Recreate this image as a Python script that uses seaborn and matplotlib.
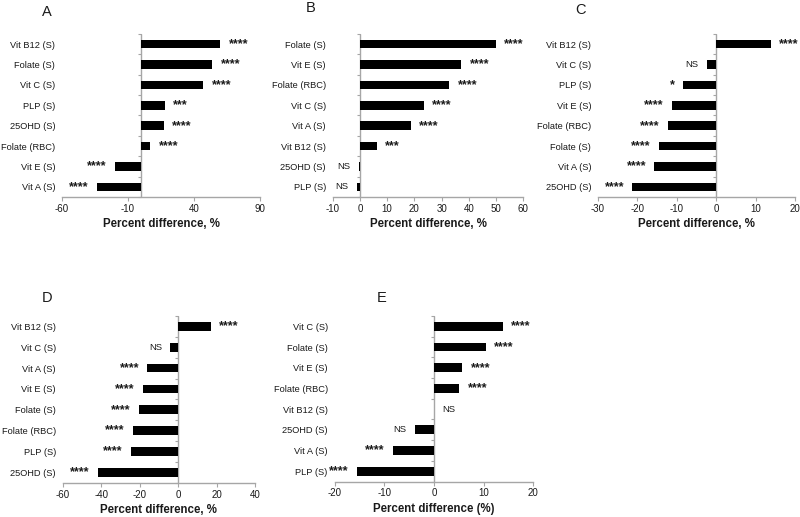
# plot.py
# Five horizontal bar panels (A-E) of percent differences with significance marks

import matplotlib
matplotlib.use("Agg")
import matplotlib.pyplot as plt
import seaborn as sns
import pandas as pd

# --- data ---
A_cats = ["Vit B12 (S)", "Folate (S)", "Vit C (S)", "PLP (S)", "25OHD (S)", "Folate (RBC)", "Vit E (S)", "Vit A (S)"]
A_vals = [60, 54, 47, 18, 17, 7, -20, -33.5]
A_sig = ["****", "****", "****", "***", "****", "****", "****", "****"]
A_ticks = [-60, -10, 40, 90]

B_cats = ["Folate (S)", "Vit E (S)", "Folate (RBC)", "Vit C (S)", "Vit A (S)", "Vit B12 (S)", "25OHD (S)", "PLP (S)"]
B_vals = [50, 37.2, 32.8, 23.5, 18.6, 6.1, -0.5, -1.0]
B_sig = ["****", "****", "****", "****", "****", "***", "NS", "NS"]
B_ticks = [-10, 0, 10, 20, 30, 40, 50, 60]

C_cats = ["Vit B12 (S)", "Vit C (S)", "PLP (S)", "Vit E (S)", "Folate (RBC)", "Folate (S)", "Vit A (S)", "25OHD (S)"]
C_vals = [13.9, -2.4, -8.5, -11.3, -12.2, -14.5, -15.7, -21.3]
C_sig = ["****", "NS", "*", "****", "****", "****", "****", "****"]
C_ticks = [-30, -20, -10, 0, 10, 20]

D_cats = ["Vit B12 (S)", "Vit C (S)", "Vit A (S)", "Vit E (S)", "Folate (S)", "Folate (RBC)", "PLP (S)", "25OHD (S)"]
D_vals = [17, -4, -16, -18.5, -20.3, -23.7, -24.6, -41.8]
D_sig = ["****", "NS", "****", "****", "****", "****", "****", "****"]
D_ticks = [-60, -40, -20, 0, 20, 40]

E_cats = ["Vit C (S)", "Folate (S)", "Vit E (S)", "Folate (RBC)", "Vit B12 (S)", "25OHD (S)", "Vit A (S)", "PLP (S)"]
E_vals = [13.9, 10.4, 5.7, 5.1, 0, -3.8, -8.3, -15.5]
E_sig = ["****", "****", "****", "****", "NS", "NS", "****", "****"]
E_ticks = [-20, -10, 0, 10, 20]

XLABEL = "Percent difference, %"
XLABEL_E = "Percent difference (%)"

sns.set_style("white")
plt.rcParams["font.family"] = ["Liberation Sans", "DejaVu Sans"]
plt.rcParams["axes.unicode_minus"] = False  # plain hyphen minus like the original

AXIS_GRAY = "#a6a6a6"
TEXT = "#1a1a1a"


def draw_panel(fig, rect, letter, letter_xy, cats, vals, sig, ticks, xlabel):
    ax = fig.add_axes(rect)
    df = pd.DataFrame({"cat": cats, "val": vals})
    sns.barplot(data=df, x="val", y="cat", orient="h", color="black",
                saturation=1, width=0.42, linewidth=0, ax=ax)

    ax.set_xlim(ticks[0], ticks[-1])
    ax.set_xticks(ticks)
    ax.set_ylim(len(cats) - 0.5, -0.5)

    # vertical axis line sits at zero, with ticks between categories
    for s in ["top", "right", "left"]:
        ax.spines[s].set_visible(False)
    ax.spines["bottom"].set_color(AXIS_GRAY)
    ax.spines["bottom"].set_linewidth(1)
    ax.axvline(0, color=AXIS_GRAY, lw=1, zorder=0)
    zero_frac = (0 - ticks[0]) / (ticks[-1] - ticks[0])
    sec = ax.secondary_yaxis(zero_frac)
    sec.spines["left"].set_visible(False)
    sec.spines["right"].set_visible(False)
    sec.set_yticks([i - 0.5 for i in range(len(cats) + 1)])
    sec.set_yticklabels([])
    sec.yaxis.set_ticks_position("left")
    sec.tick_params(axis="y", length=2.5, width=0.8, color=AXIS_GRAY, direction="out")

    ax.tick_params(axis="y", length=0, pad=5, labelsize=6.7, labelcolor=TEXT)
    ax.tick_params(axis="x", length=3, width=0.8, color=AXIS_GRAY, pad=2,
                   labelsize=7, labelcolor=TEXT, bottom=True)
    ax.set_ylabel("")
    ax.set_xlabel(xlabel, fontsize=8.3, fontweight="bold", color=TEXT, labelpad=3)

    # significance marks beside each bar end
    for i, (v, s) in enumerate(zip(vals, sig)):
        is_ns = s == "NS"
        if v >= 0:
            off, ha = 6, "left"
        else:
            off, ha = -6, "right"
        ax.annotate(s, xy=(v, i), xytext=(off, 0),
                    textcoords="offset points", ha=ha, va="center",
                    fontsize=6.8 if is_ns else 9,
                    fontweight="normal" if is_ns else "bold",
                    color=TEXT, annotation_clip=False)

    fig.text(letter_xy[0], letter_xy[1], letter, fontsize=10.5, color=TEXT,
             ha="center", va="center")
    return ax


fig = plt.figure(figsize=(8, 5.17), dpi=100)
W, H = 800, 517


def rect(x0, x1, y0, y1):
    # pixel box -> figure fraction
    return [x0 / W, 1 - y1 / H, (x1 - x0) / W, (y1 - y0) / H]


def pos(x, y):
    return (x / W, 1 - y / H)


draw_panel(fig, rect(62, 260, 34, 197), "A", pos(47, 12), A_cats, A_vals, A_sig, A_ticks, XLABEL)
draw_panel(fig, rect(332.7, 523.3, 34, 197), "B", pos(311, 8), B_cats, B_vals, B_sig, B_ticks, XLABEL)
draw_panel(fig, rect(598, 795, 34, 197), "C", pos(580, 10), C_cats, C_vals, C_sig, C_ticks, XLABEL)
draw_panel(fig, rect(62.7, 255, 316, 482.7), "D", pos(47, 298), D_cats, D_vals, D_sig, D_ticks, XLABEL)
draw_panel(fig, rect(334.6, 533.3, 316, 481.5), "E", pos(382, 298), E_cats, E_vals, E_sig, E_ticks, XLABEL_E)

fig.savefig("out.png", dpi=100)
